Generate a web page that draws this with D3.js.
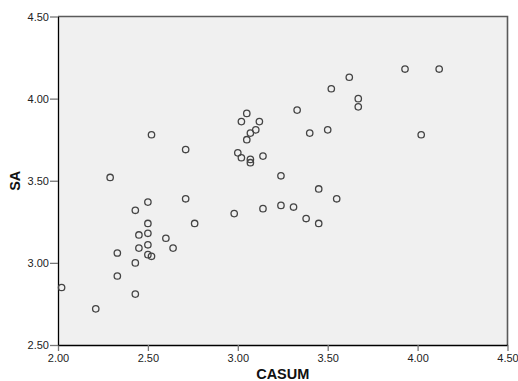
<!DOCTYPE html>
<html><head><meta charset="utf-8">
<script src="https://cdn.jsdelivr.net/npm/d3@7"></script>
<style>body{margin:0;background:#fff;} text{font-family:"Liberation Sans",Arial,sans-serif;}</style>
</head><body>
<svg id="c" width="518" height="381"></svg>
<script>
const casum = [2.02,2.21,2.33,2.43,2.43,2.33,2.50,2.52,2.50,2.76,2.45,2.50,2.60,2.45,2.50,2.64,2.52,2.71,2.29,2.50,2.43,2.71,2.98,3.05,3.02,3.05,3.00,3.02,3.62,3.52,3.67,3.67,3.33,3.12,3.10,3.07,3.50,3.40,3.07,3.07,3.14,3.24,3.45,3.55,3.14,3.24,3.31,3.38,3.45,3.93,4.12,4.02];
const sa    = [2.85,2.72,2.92,2.81,3.00,3.06,3.05,3.04,3.24,3.24,3.17,3.18,3.15,3.09,3.11,3.09,3.78,3.69,3.52,3.37,3.32,3.39,3.30,3.91,3.86,3.75,3.67,3.64,4.13,4.06,4.00,3.95,3.93,3.86,3.81,3.79,3.81,3.79,3.63,3.61,3.65,3.53,3.45,3.39,3.33,3.35,3.34,3.27,3.24,4.18,4.18,3.78];
const xTicks = [2.00,2.50,3.00,3.50,4.00,4.50];
const yTicks = [2.50,3.00,3.50,4.00,4.50];
const xTitle = "CASUM", yTitle = "SA";

const L=58, R=507.5, T=16.5, B=345;
const svg = d3.select("#c");
const x = d3.scaleLinear().domain([2,4.5]).range([L,R]);
const y = d3.scaleLinear().domain([2.5,4.5]).range([B,T]);

svg.append("rect").attr("x",L).attr("y",T).attr("width",R-L).attr("height",B-T).attr("fill","#f0f0f0");
// top & right border
svg.append("path").attr("d",`M${L},${T}H${R}V${B}`).attr("fill","none").attr("stroke","#5a5a5a").attr("stroke-width",1.6);

const xa = svg.append("g").attr("transform",`translate(0,${B})`)
  .call(d3.axisBottom(x).tickValues(xTicks).tickFormat(d3.format(".2f")).tickSize(6).tickSizeOuter(0).tickPadding(3));
const ya = svg.append("g").attr("transform",`translate(${L},0)`)
  .call(d3.axisLeft(y).tickValues(yTicks).tickFormat(d3.format(".2f")).tickSize(8).tickSizeOuter(0).tickPadding(1));
[xa,ya].forEach(a=>{
  a.select(".domain").attr("stroke","#000").attr("stroke-width",1.3);
  a.selectAll(".tick line").attr("stroke","#777").attr("stroke-width",1.3);
  a.selectAll(".tick text").attr("font-size",11).attr("fill","#222").attr("font-family","Liberation Sans, Arial, sans-serif");
});

svg.append("g").selectAll("circle").data(casum.map((c,i)=>[c,sa[i]])).join("circle")
  .attr("cx",d=>x(d[0])).attr("cy",d=>y(d[1])).attr("r",3.2)
  .attr("fill","none").attr("stroke","#444").attr("stroke-width",1.3);

svg.append("text").attr("x",(L+R)/2).attr("y",379).attr("text-anchor","middle")
  .attr("font-size",14.5).attr("font-weight","bold").attr("fill","#111").text(xTitle);
svg.append("text").attr("transform",`translate(20,${(T+B)/2}) rotate(-90)`).attr("text-anchor","middle")
  .attr("font-size",14.5).attr("font-weight","bold").attr("fill","#111").text(yTitle);
</script>
</body></html>
